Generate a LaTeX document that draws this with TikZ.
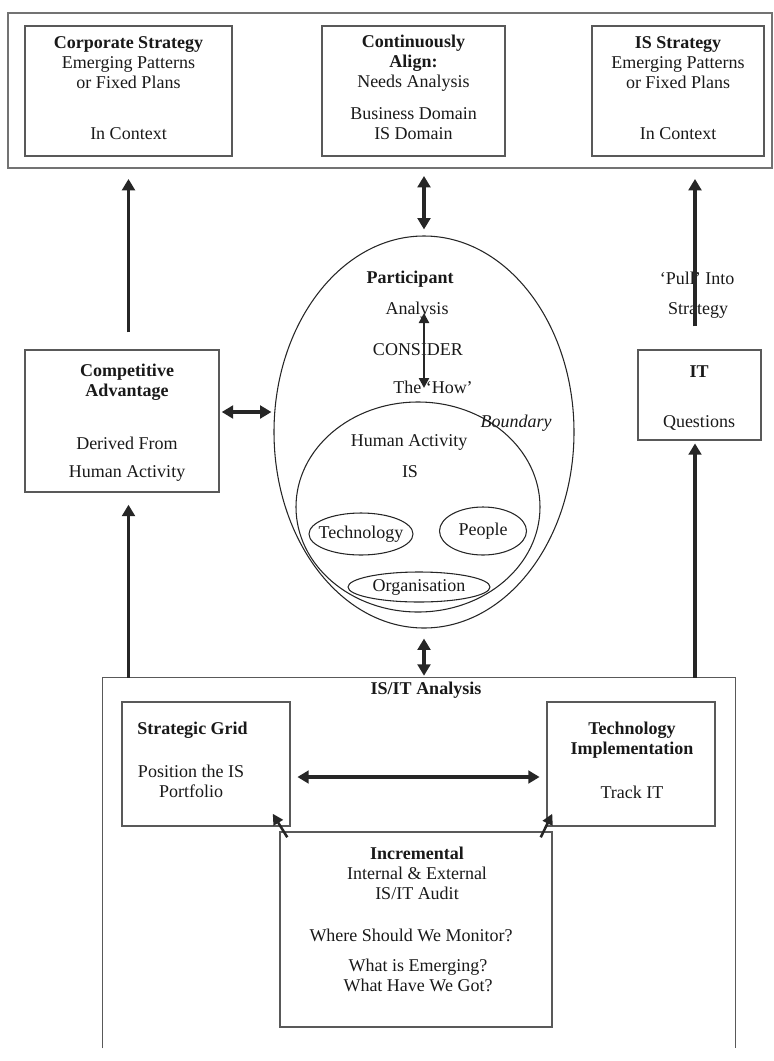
\documentclass[tikz,border=0pt]{standalone}
\usepackage{fontspec}
\setmainfont{Liberation Serif}
\usetikzlibrary{arrows.meta,shapes.geometric,fit,calc}
\begin{document}
\begin{tikzpicture}[x=0.75pt,y=-0.75pt,
  txt/.style={inner sep=0pt, font=\fontsize{13.5}{15}\selectfont, align=center, text=black!90},
  boxst/.style={draw=black!65, line width=1.1pt, inner sep=0pt},
  ellst/.style={ellipse, draw=black!85, line width=0.8pt, inner sep=0pt},
  arr/.style={draw=black!85, line width=2.4pt, -{Triangle[length=8.5pt,width=9.5pt]}},
  darr/.style={draw=black!85, line width=2.4pt, {Triangle[length=8.5pt,width=9.5pt]}-{Triangle[length=8.5pt,width=9.5pt]}},
  sarr/.style={draw=black!85, line width=1.9pt, -{Triangle[length=8pt,width=8pt]}},
  sdarr/.style={draw=black!85, line width=1.7pt, {Triangle[length=7.5pt,width=7.5pt]}-{Triangle[length=7.5pt,width=7.5pt]}}]
\useasboundingbox (0,0) rectangle (774,1061);

% ---------- top row ----------
\node[boxst, draw=black!55, line width=1.4pt, fit={(8,13) (772,168)}] (top) {};
\node[boxst, fit={(25,26) (232,156)}] (corp) {};
\node[boxst, fit={(322,26) (505,156)}] (align) {};
\node[boxst, fit={(592,26) (764,156)}] (iss) {};

\node[txt] (corpT) at (128.5,63) {\textbf{Corporate Strategy}\\Emerging Patterns\\or Fixed Plans};
\node[txt] (corpC) at (128.5,134) {In Context};
\node[txt] (alignT) at (413.5,63) {\textbf{Continuously}\\\textbf{Align:}\\Needs Analysis};
\node[txt] (alignD) at (413.5,124) {Business Domain\\IS Domain};
\node[txt] (issT) at (678,63) {\textbf{IS Strategy}\\Emerging Patterns\\or Fixed Plans};
\node[txt] (issC) at (678,134) {In Context};

% ---------- middle ----------
\node[boxst, fit={(25,350) (219,492)}] (comp) {};
\node[txt] (compT) at (127,382) {\textbf{Competitive}\\\textbf{Advantage}};
\node[txt] (compD) at (127,443) {Derived From};
\node[txt] (compH) at (127,473) {Human Activity};

\node[boxst, fit={(638,350) (761,440)}] (itq) {};
\node[txt] (itT) at (699,372) {\textbf{IT}};
\node[txt] (itQ) at (699,423) {Questions};
\node[txt] (pull) at (697,278) {‘Pull’ Into};
\node[txt] (strat) at (698,310) {Strategy};

\node[ellst, minimum width=225pt, minimum height=294pt] (ell) at (424,432) {};
\node[ellst, minimum width=183pt, minimum height=157.5pt] (bnd) at (418,507) {};
\node[ellst, minimum width=78pt, minimum height=31.5pt] (tech) at (361,534) {};
\node[ellst, minimum width=65.25pt, minimum height=36pt] (ppl) at (483,531) {};
\node[ellst, minimum width=106.5pt, minimum height=22.5pt] (org) at (419,587) {};

\node[txt] (part) at (410,279) {\textbf{Participant}};
\node[txt] (anal) at (417,310) {Analysis};
\node[txt] (cons) at (418,350) {CONSIDER};
\node[txt, anchor=west] (how) at (393,387) {The ‘How’};
\node[txt] (bndT) at (516,423) {\textit{Boundary}};
\node[txt] (hum) at (409,442) {Human Activity};
\node[txt] (isT) at (410,472) {IS};
\node[txt] at (tech) {Technology};
\node[txt] at (ppl) {People};
\node[txt] at (org) {Organisation};

% ---------- bottom ----------
\node[inner sep=0pt, fit={(103,678) (735,1048)}] (isit) {};
\draw[boxst] (isit.south west) -- (isit.north west) -- (isit.north east) -- (isit.south east);
\node[txt] (isitT) at (426,690) {\textbf{IS/IT Analysis}};

\node[boxst, fit={(122,702) (290,826)}] (sg) {};
\node[txt, anchor=west] (sgT) at (137,730) {\textbf{Strategic Grid}};
\node[txt] (sgP) at (191,781) {Position the IS\\Portfolio};

\node[boxst, fit={(547,702) (715,826)}] (ti) {};
\node[txt] (tiT) at (632,740) {\textbf{Technology}\\\textbf{Implementation}};
\node[txt] (tiK) at (632,792) {Track IT};

\node[boxst, fit={(280,832) (552,1027)}] (inc) {};
\node[txt] (incT) at (417,873) {\textbf{Incremental}\\Internal \& External\\IS/IT Audit};
\node[txt] (incW) at (411,935) {Where Should We Monitor?};
\node[txt] (incE) at (418,975) {What is Emerging?\\What Have We Got?};

% ---------- connectors ----------
\coordinate (rx) at (695,0);
\draw[arr, shorten <=12.75pt, shorten >=7.5pt] (comp.north -| corp.south) -- (top.south -| corp.south);
\draw[darr, shorten <=5.25pt, shorten >=4.5pt] (top.south -| ell.north) -- (ell.north);
\draw[arr, shorten <=17.25pt, shorten >=7.5pt] (itq.north -| rx) -- (top.south -| rx);
\draw[darr, shorten <=1.5pt, shorten >=1.5pt] ([yshift=6.75pt]comp.east) -- ([yshift=15pt]ell.west);
\draw[arr, shorten >=9pt] (isit.north -| corp.south) -- (comp.south -| corp.south);
\draw[arr, shorten >=2pt] (isit.north -| rx) -- (itq.south -| rx);
\draw[darr, shorten <=7.5pt, shorten >=1.5pt] (ell.south) -- (isit.north -| ell.south);
\draw[darr, shorten <=5pt, shorten >=5pt] ([yshift=-9.75pt]sg.east) -- ([yshift=-9.75pt]ti.west);
\draw[sarr] ($(inc.north west)+(8,6)$) -- ($(sg.south east)+(-18,-13)$);
\draw[sarr] ($(inc.north east)+(-12,6)$) -- ($(ti.south west)+(6,-13)$);
\draw[sdarr] ($(anal.center -| ell.center)+(0,3)$) -- ($(how.center -| ell.center)+(0,1)$);
\end{tikzpicture}
\end{document}
